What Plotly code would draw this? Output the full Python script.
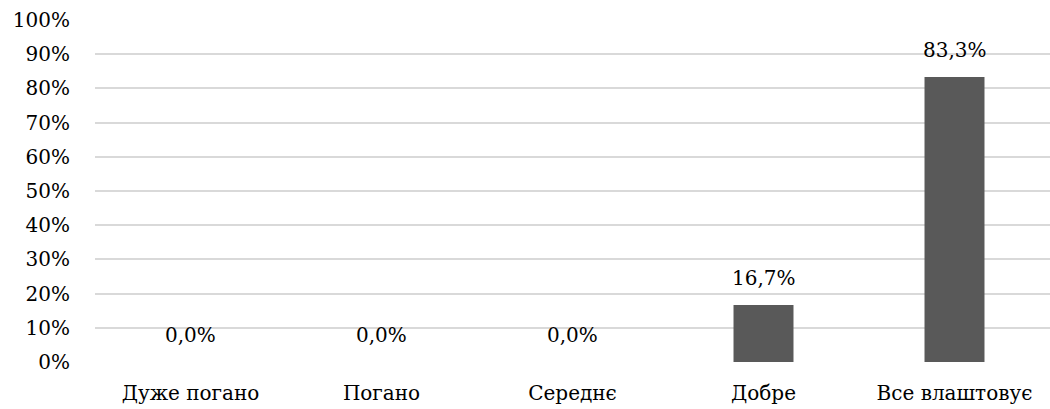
import plotly.graph_objects as go

categories = ["Дуже погано", "Погано", "Середнє", "Добре", "Все влаштовує"]
shares = [0.0, 0.0, 0.0, 16.7, 83.3]
value_labels = ["0,0%", "0,0%", "0,0%", "16,7%", "83,3%"]
y_ticks = list(range(0, 101, 10))
y_tick_labels = [f"{v}%" for v in y_ticks]

FONT = "DejaVu Serif"
SIZE = 20

fig = go.Figure(
    go.Bar(
        x=categories,
        y=shares,
        marker=dict(color="#595959", line=dict(width=0)),
        hoverinfo="skip",
    )
)

# value labels placed just above each bar top
for cat, val, lab in zip(categories, shares, value_labels):
    fig.add_annotation(
        x=cat, y=val, text=lab, showarrow=False,
        yanchor="bottom", yshift=13,
        font=dict(family=FONT, size=SIZE, color="#000000"),
    )

fig.update_layout(
    width=1050, height=409,
    margin=dict(l=95, r=0, t=20, b=47),
    paper_bgcolor="white", plot_bgcolor="white",
    bargap=0.686,
    showlegend=False,
    font=dict(family=FONT, size=SIZE, color="#000000"),
)
fig.update_xaxes(
    showgrid=False, showline=False, zeroline=False,
    ticks="", ticklabelstandoff=17,
    tickfont=dict(family=FONT, size=SIZE, color="#000000"),
)
fig.update_yaxes(
    range=[0, 100], tickvals=y_ticks, ticktext=y_tick_labels,
    showgrid=True, gridcolor="#d9d9d9", gridwidth=1.5,
    zeroline=False, showline=False, ticks="",
    ticklabelstandoff=24,
    tickfont=dict(family=FONT, size=SIZE, color="#000000"),
)

fig.write_html("out.html")
